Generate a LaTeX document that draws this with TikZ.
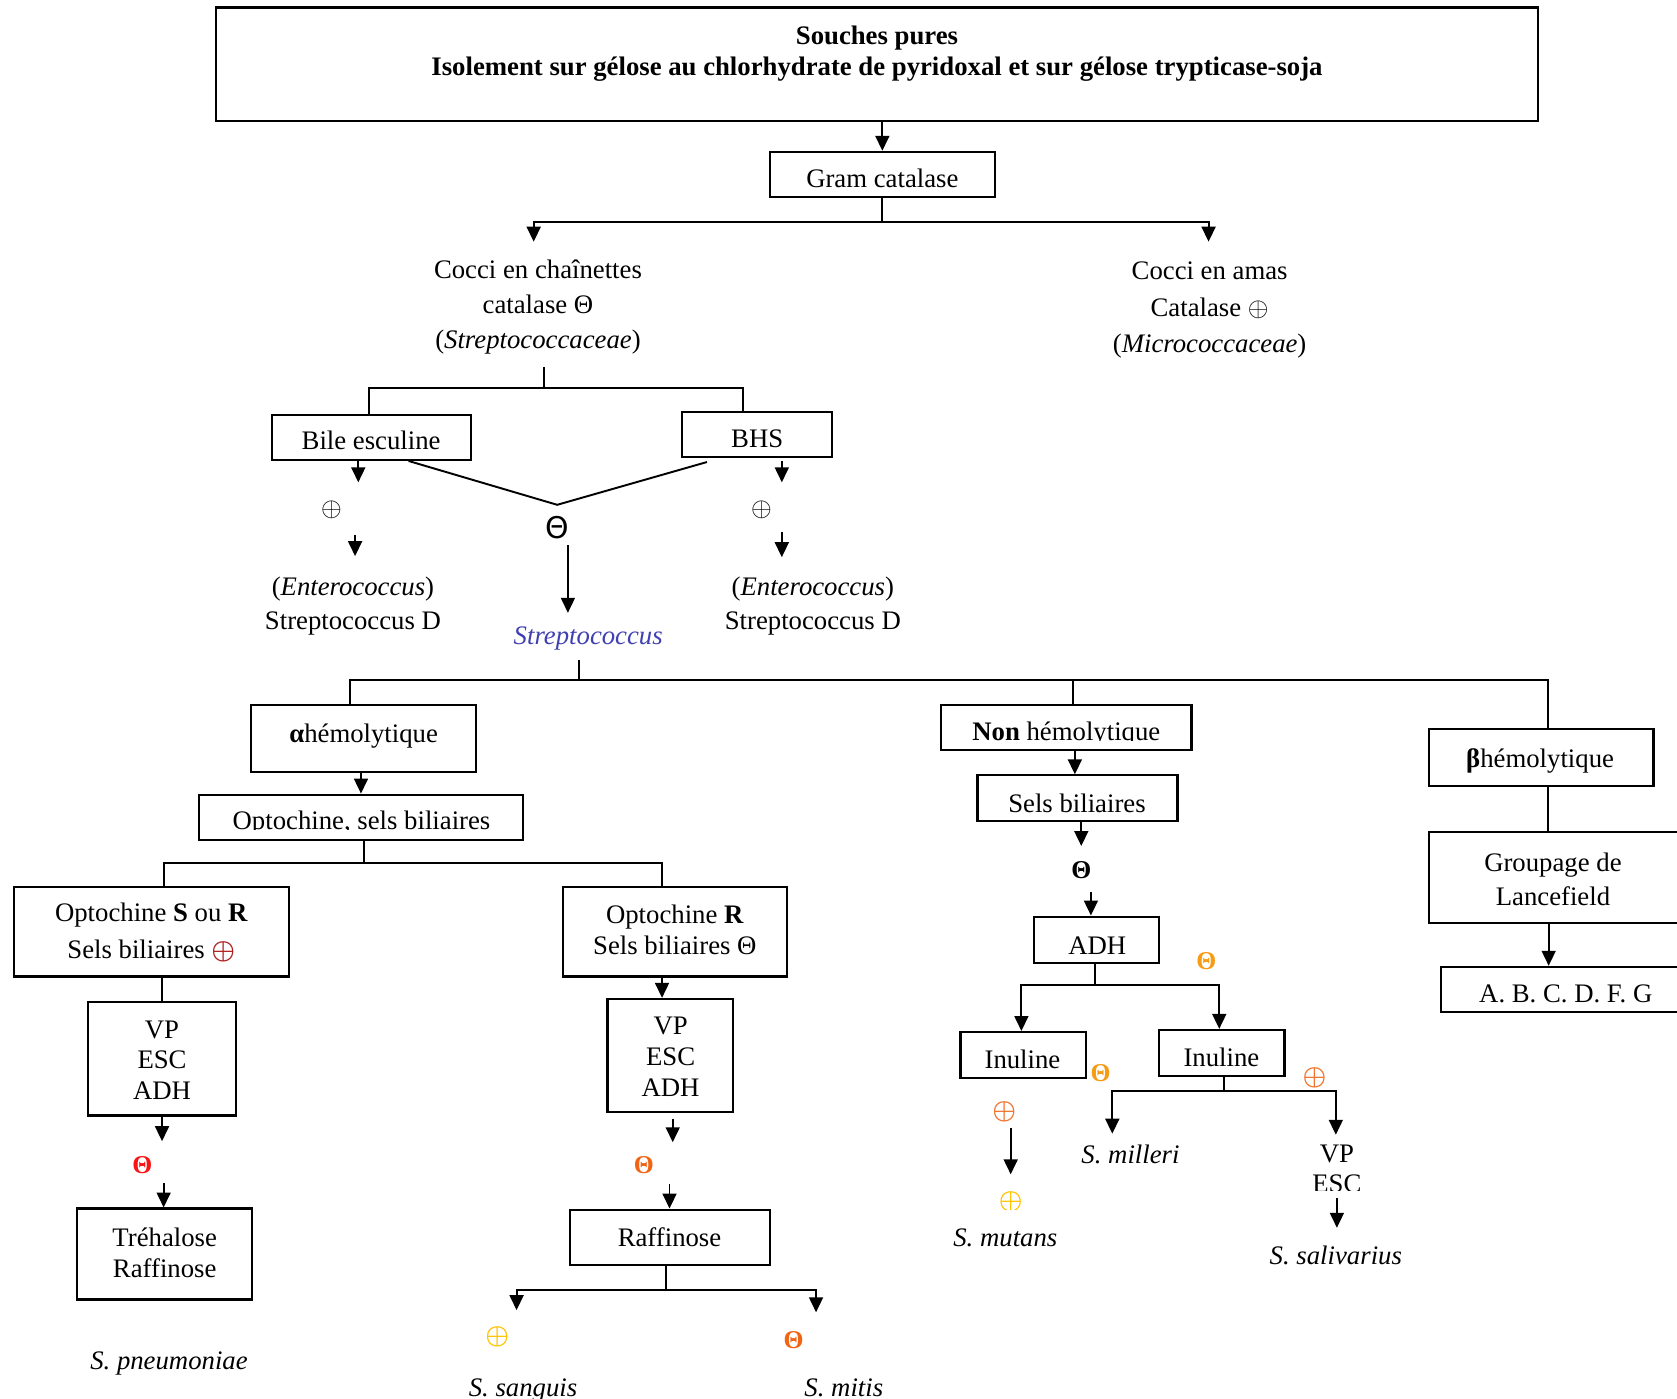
\documentclass[tikz,border=0pt]{standalone}
\usepackage{fontspec}
\usepackage{graphicx}
\setmainfont{Liberation Serif}
\newfontfamily\symfam{DejaVu Sans}
\usetikzlibrary{arrows.meta,calc}
\definecolor{streptoblue}{RGB}{64,64,176}
\definecolor{signdarkred}{RGB}{175,30,30}
\definecolor{signred}{RGB}{250,20,20}
\definecolor{signorange}{RGB}{240,100,20}
\definecolor{signamber}{RGB}{245,155,20}
\definecolor{signcoral}{RGB}{240,115,45}
\definecolor{signyellow}{RGB}{255,195,0}
\newcommand{\plussym}{$\oplus$}
\newcommand{\boldplussym}{{\boldmath$\oplus$}}
\begin{document}
\begin{tikzpicture}[x=1pt,y=-1pt,
  box/.style={draw,line width=2pt,inner sep=0pt},
  txt/.style={inner sep=0pt,font=\fontsize{25}{30}\selectfont},
  one/.style={txt,text height=16.5pt,text depth=0pt},
  ital/.style={one,font=\itshape\fontsize{25}{30}\selectfont},
  multi/.style={txt,align=center},
  lnk/.style={line width=1.8pt},
  arr/.style={line width=1.8pt,-{Triangle[width=13pt,length=14pt]}},
  possign/.style={inner sep=0pt,font=\fontsize{23}{23}\selectfont},
  negsign/.style={inner sep=0pt,font=\bfseries\fontsize{24}{24}\selectfont}
]
\clip (0,0) rectangle (1568,1308);

% ---------- header ----------
\node[box,minimum width=1236pt,minimum height=106pt] (head) at (820,60) {};
\node[multi,font=\bfseries\fontsize{25}{29}\selectfont] (headtxt) at (820,50)
  {Souches pures\\Isolement sur gélose au chlorhydrate de pyridoxal et sur gélose trypticase-soja};

\node[box,minimum width=210pt,minimum height=42pt] (gram) at (825,163) {};
\node[one] (gramtxt) at (825,167) {Gram catalase};
\draw[arr] (head.south -| gram.north) -- (gram.north);

\draw[lnk] (gram.south) -- ++(0,23) coordinate (gramfork);
\coordinate (chainin) at (499,226);
\coordinate (amasin) at (1130,226);
\draw[arr] (gramfork) -| (chainin);
\draw[arr] (gramfork) -| (amasin);

\node[multi,font=\fontsize{25}{33}\selectfont] (chain) at (503,287)
  {Cocci en chaînettes\\catalase Θ\\(\textit{Streptococcaceae})};
\node[multi,font=\fontsize{25}{34}\selectfont] (amas) at (1131,290)
  {Cocci en amas\\Catalase \plussym\\(\textit{Micrococcaceae})};

% ---------- bile esculine / BHS ----------
\node[box,minimum width=186pt,minimum height=42pt] (bile) at (347,409) {};
\node[one] (biletxt) at (347,412) {Bile esculine};
\node[box,minimum width=140pt,minimum height=42pt] (bhs) at (708,406) {};
\node[one] (bhstxt) at (708,410) {BHS};

\coordinate (chainout) at (509,343);
\draw[lnk] (chainout) -- ++(0,20) coordinate (chainfork);
\draw[lnk] (chainfork) -| ($(bile.north)+(-2,0)$);
\draw[lnk] (chainfork) -| ($(bhs.north)+(-13,0)$);

\draw[arr] ($(bile.south)+(-12,0)$) -- ++(0,20);
\node[possign] (bilepos) at (310,477) {\plussym};
\coordinate (bileposout) at (332,500);
\draw[arr] (bileposout) -- ++(0,20);
\node[multi,font=\fontsize{25}{32}\selectfont] (enteroL) at (330,567)
  {(\textit{Enterococcus})\\Streptococcus D};

\draw[arr] ($(bhs.south)+(23,3)$) -- ++(0,20);
\node[possign] (bhspos) at (712,477) {\plussym};
\coordinate (bhsposout) at (731,497);
\draw[arr] (bhsposout) -- ++(0,24);
\node[multi,font=\fontsize{25}{32}\selectfont] (enteroR) at (760,567)
  {(\textit{Enterococcus})\\Streptococcus D};

\coordinate (vtip) at (521,472);
\draw[lnk] ($(bile.south)+(35,0)$) -- (vtip) -- ($(bhs.south)+(-47,4)$);
\node[inner sep=0pt,font=\symfam\fontsize{28}{28}\selectfont] (vneg) at (521,493) {Θ};
\coordinate (vnegout) at (531,510);
\coordinate (strepin) at (531,573);
\draw[arr] (vnegout) -- (strepin);
\node[ital,text=streptoblue] (strep) at (550,594) {Streptococcus};

% ---------- haemolysis split ----------
\node[box,minimum width=210pt,minimum height=63pt] (alpha) at (340,690.5) {};
\node[one] (alphatxt) at (340,686) {\textbf{α}hémolytique};
\node[box,minimum width=234pt,minimum height=42pt] (nonh) at (997,680) {};
\begin{scope}
  \clip (880,660) rectangle (1114,692);
  \node[one] (nonhtxt) at (997,684) {\textbf{Non} hémolytique};
\end{scope}
\node[box,minimum width=210pt,minimum height=53pt] (beta) at (1441,708.5) {};
\node[one] (betatxt) at (1440,709) {\textbf{β}hémolytique};

\coordinate (strepout) at (541,617);
\draw[lnk] (strepout) -- ++(0,20);
\draw[lnk] ($(alpha.north)+(-13,0)$) -- ++(0,-22) -- ($(beta.north)+(6,-45)$) -- ($(beta.north)+(6,0)$);
\draw[lnk] ($(nonh.north)+(6,0)$) -- ++(0,-22);

% ---------- alpha branch ----------
\node[box,minimum width=303pt,minimum height=42pt] (opt) at (337.5,764) {};
\begin{scope}
  \clip (186,744) rectangle (489,776);
  \node[one] (opttxt) at (338,767.5) {Optochine, sels biliaires};
\end{scope}
\draw[arr] (alpha.south -| opt.north) -- (opt.north);

\node[box,minimum width=257pt,minimum height=84pt] (sr) at (141.5,871) {};
\node[multi,font=\fontsize{25}{34}\selectfont] (srtxt) at (141.5,872)
  {Optochine \textbf{S} ou \textbf{R}\\Sels biliaires {\color{signdarkred}\boldplussym}};
\node[box,minimum width=210pt,minimum height=84pt] (rr) at (631,871) {};
\node[multi,font=\fontsize{25}{29}\selectfont] (rrtxt) at (631,869)
  {Optochine \textbf{R}\\Sels biliaires Θ};

\draw[lnk] ($(opt.south)+(2.5,0)$) -- ++(0,21) coordinate (optfork);
\draw[lnk] (optfork) -| ($(sr.north)+(11.5,0)$);
\draw[lnk] (optfork) -| ($(rr.north)+(-12,0)$);

% left column
\node[box,minimum width=139pt,minimum height=106pt] (vpL) at (151.5,990) {};
\node[multi,font=\fontsize{25}{28.5}\selectfont] (vpLtxt) at (151.5,991) {VP\\ESC\\ADH};
\draw[lnk] (vpL.north |- sr.south) -- (vpL.north);
\draw[arr] (vpL.south) -- ++(0,23);
\node[negsign,text=signred] (negL) at (133,1089) {Θ};
\node[box,minimum width=164pt,minimum height=85pt] (treh) at (154,1172.5) {};
\node[multi,font=\fontsize{25}{29}\selectfont] (trehtxt) at (154,1171) {Tréhalose\\Raffinose};
\draw[arr] ($(treh.north)+(-1,-23)$) -- ($(treh.north)+(-1,0)$);
\node[ital] (pneum) at (158,1272) {S. pneumoniae};

% right column
\node[box,minimum width=117pt,minimum height=106pt] (vpR) at (626.5,987) {};
\node[multi,font=\fontsize{25}{29}\selectfont] (vpRtxt) at (627,988) {VP\\ESC\\ADH};
\draw[arr] ($(rr.south)+(-12,0)$) -- ($(vpR.north)+(-7.5,0)$);
\draw[arr] ($(vpR.south)+(2.5,5)$) -- ++(0,22);
\node[negsign,text=signorange] (negR) at (602,1089) {Θ};
\node[box,minimum width=187pt,minimum height=52pt] (raff) at (626.5,1157) {};
\node[one] (rafftxt) at (626,1157) {Raffinose};
\draw[arr] ($(raff.north)+(-0.5,-23)$) -- ($(raff.north)+(-0.5,0)$);
\draw[lnk] ($(raff.south)+(-3.5,0)$) -- ++(0,22) coordinate (rafffork);
\coordinate (sanguisin) at (483,1225);
\coordinate (mitisin) at (763,1227);
\draw[arr] (rafffork) -| (sanguisin);
\draw[arr] (rafffork) -| (mitisin);
\node[possign,text=signyellow] (sangpos) at (465,1250) {\boldplussym};
\node[negsign,text=signorange] (mitneg) at (742,1253) {Θ};
\node[ital] (sanguis) at (489,1297) {S. sanguis};
\node[ital] (mitis) at (789,1297) {S. mitis};

% ---------- non haemolytic branch ----------
\node[box,minimum width=187pt,minimum height=43pt] (sels) at (1007.5,746.5) {};
\node[one] (selstxt) at (1007,751) {Sels biliaires};
\draw[arr] ($(nonh.south)+(8,0)$) -- ($(sels.north)+(-2.5,0)$);
\draw[arr] ($(sels.south)+(3.5,0)$) -- ++(0,22);
\node[negsign] (selsneg) at (1011,814) {Θ};
\node[box,minimum width=117pt,minimum height=43pt] (adh) at (1025.5,878.5) {};
\node[one] (adhtxt) at (1026,884) {ADH};
\draw[arr] ($(adh.north)+(-5.5,-22)$) -- ($(adh.north)+(-5.5,0)$);

\node[box,minimum width=117pt,minimum height=43pt] (inuL) at (956.5,986.5) {};
\node[one] (inuLtxt) at (956,991) {Inuline};
\node[box,minimum width=117pt,minimum height=43pt] (inuR) at (1142.5,984.5) {};
\node[one] (inuRtxt) at (1142,989) {Inuline};
\draw[lnk] ($(adh.south)+(-1.5,0)$) -- ++(0,20) coordinate (adhfork);
\draw[arr] (adhfork) -| ($(inuL.north)+(-1.5,0)$);
\draw[arr] (adhfork) -| ($(inuR.north)+(-2.5,0)$);
\node[negsign,text=signamber] (adhneg) at (1128,899) {Θ};
\node[negsign,text=signamber] (inuLneg) at (1029,1003) {Θ};
\node[possign,text=signcoral] (inuRpos) at (1229,1008) {\boldplussym};

\draw[lnk] ($(inuR.south)+(1.5,0)$) -- ++(0,13) coordinate (inufork);
\coordinate (millerin) at (1040,1060);
\coordinate (vpescin) at (1249,1061);
\draw[arr] (inufork) -| (millerin);
\draw[arr] (inufork) -| (vpescin);
\node[ital] (milleri) at (1057,1080) {S. milleri};
\begin{scope}
  \clip (1200,1062) rectangle (1300,1113);
  \node[multi,font=\fontsize{25}{28}\selectfont] (vpesc) at (1250,1093) {VP\\ESC};
\end{scope}
\coordinate (vpescout) at (1250,1120);
\coordinate (salivin) at (1250,1148);
\draw[arr] (vpescout) -- (salivin);
\node[ital] (salivarius) at (1249,1174) {S. salivarius};

\node[possign,text=signcoral] (inuLpos) at (939,1040) {\boldplussym};
\coordinate (mutout) at (945,1055);
\coordinate (mutin) at (945,1098);
\draw[arr] (mutout) -- (mutin);
\begin{scope}
  \clip (920,1100) rectangle (970,1131);
  \node[possign,text=signyellow] (mutpos) at (945,1124) {\boldplussym};
\end{scope}
\node[ital] (mutans) at (940,1157) {S. mutans};

% ---------- beta branch ----------
\node[box,minimum width=234pt,minimum height=85pt] (grp) at (1453,820.5) {};
\node[multi,font=\fontsize{25}{32}\selectfont] (grptxt) at (1452,822) {Groupage de\\Lancefield};
\draw[lnk] ($(beta.south)+(6,0)$) -- ($(grp.north)+(-6,0)$);
\node[box,minimum width=235pt,minimum height=42pt] (abc) at (1464.5,925) {};
\node[one] (abctxt) at (1464,929) {A. B. C. D. F. G};
\draw[arr] ($(grp.south)+(-5,0)$) -- ($(abc.north)+(-16.5,0)$);
\end{tikzpicture}
\end{document}
